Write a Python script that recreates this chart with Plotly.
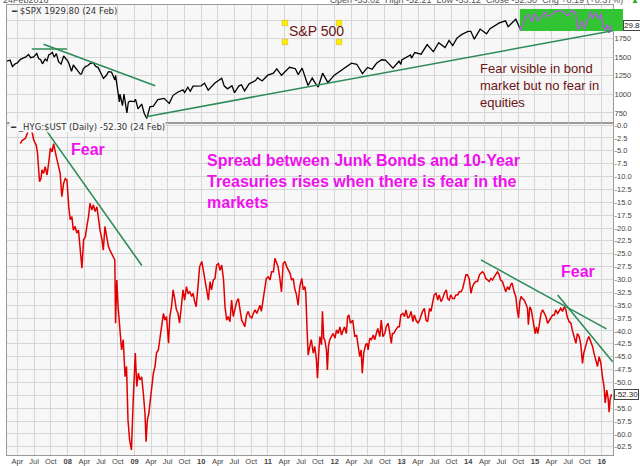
import plotly.graph_objects as go
import pandas as pd

# S&P 500 (top panel)
spx_dates = [
    "2007-02-01", "2007-02-20", "2007-03-05", "2007-03-20", "2007-04-02", "2007-04-16", "2007-05-01",
    "2007-05-15", "2007-06-01", "2007-06-12", "2007-06-29", "2007-07-16", "2007-07-26", "2007-08-06",
    "2007-08-16", "2007-08-31", "2007-09-10", "2007-09-19", "2007-10-01", "2007-10-09", "2007-10-19",
    "2007-10-31", "2007-11-12", "2007-11-26", "2007-12-10", "2007-12-21", "2008-01-02", "2008-01-09",
    "2008-01-22", "2008-02-01", "2008-02-15", "2008-03-10", "2008-03-17", "2008-03-26", "2008-04-07",
    "2008-04-21", "2008-05-02", "2008-05-19", "2008-06-02", "2008-06-16", "2008-07-01", "2008-07-15",
    "2008-08-01", "2008-08-11", "2008-08-28", "2008-09-15", "2008-09-19", "2008-09-29", "2008-10-10",
    "2008-10-13", "2008-10-27", "2008-11-04", "2008-11-20", "2008-11-28", "2008-12-08", "2008-12-31",
    "2009-01-06", "2009-01-20", "2009-02-09", "2009-02-23", "2009-03-09", "2009-03-26", "2009-04-14",
    "2009-05-08", "2009-06-12", "2009-07-10", "2009-07-31", "2009-08-25", "2009-09-23", "2009-10-02",
    "2009-10-19", "2009-11-02", "2009-11-17", "2009-12-31", "2010-01-19", "2010-02-08", "2010-03-15",
    "2010-04-23", "2010-05-07", "2010-05-25", "2010-06-18", "2010-07-02", "2010-07-26", "2010-08-09",
    "2010-08-26", "2010-09-20", "2010-10-25", "2010-11-05", "2010-11-30", "2010-12-31", "2011-01-31",
    "2011-02-18", "2011-03-16", "2011-04-29", "2011-05-31", "2011-06-15", "2011-07-07", "2011-08-08",
    "2011-08-31", "2011-09-22", "2011-10-03", "2011-10-27", "2011-11-25", "2011-12-30", "2012-01-31",
    "2012-02-29", "2012-04-02", "2012-05-01", "2012-06-01", "2012-06-29", "2012-07-24", "2012-08-17",
    "2012-09-14", "2012-10-05", "2012-11-15", "2012-12-18", "2012-12-28", "2013-01-02", "2013-02-19",
    "2013-02-25", "2013-03-14", "2013-04-18", "2013-05-21", "2013-06-24", "2013-07-23", "2013-08-27",
    "2013-09-18", "2013-10-08", "2013-10-31", "2013-11-27", "2013-12-31", "2014-01-15", "2014-02-03",
    "2014-03-07", "2014-04-11", "2014-04-30", "2014-06-20", "2014-07-24", "2014-08-07", "2014-09-18",
    "2014-10-10", "2014-10-15", "2014-11-10", "2014-11-28", "2014-12-16", "2014-12-29", "2015-01-15",
    "2015-02-27", "2015-03-11", "2015-04-24", "2015-05-21", "2015-06-29", "2015-07-20", "2015-08-10",
    "2015-08-25", "2015-09-17", "2015-09-29", "2015-10-30", "2015-11-03", "2015-11-13", "2015-12-01",
    "2015-12-14", "2015-12-29", "2016-01-08", "2016-01-20", "2016-02-01", "2016-02-11", "2016-02-24",
]
spx_vals = [
    1445, 1460, 1375, 1410, 1425, 1468, 1487, 1500, 1536, 1493, 1503, 1549, 1483, 1467, 1411, 1474,
    1451, 1529, 1547, 1565, 1501, 1549, 1439, 1407, 1516, 1484, 1447, 1409, 1310, 1395, 1350, 1273,
    1276, 1341, 1373, 1388, 1414, 1427, 1378, 1360, 1284, 1214, 1260, 1305, 1300, 1193, 1255, 1106,
    899, 1003, 848, 1005, 752, 896, 909, 903, 935, 805, 870, 743, 677, 832, 842, 930, 946, 879, 987,
    1028, 1061, 1025, 1097, 1042, 1110, 1115, 1150, 1056, 1150, 1217, 1111, 1074, 1117, 1022, 1115,
    1127, 1047, 1142, 1185, 1225, 1180, 1258, 1286, 1343, 1256, 1364, 1345, 1266, 1353, 1119, 1219,
    1130, 1099, 1285, 1159, 1258, 1312, 1366, 1419, 1405, 1278, 1362, 1338, 1418, 1465, 1460, 1353,
    1446, 1402, 1462, 1530, 1488, 1563, 1541, 1669, 1573, 1695, 1630, 1725, 1656, 1757, 1807, 1848,
    1848, 1742, 1878, 1815, 1884, 1962, 1988, 1910, 2011, 1906, 1862, 2039, 2067, 1972, 2090, 1992,
    2104, 2040, 2117, 2130, 2057, 2128, 2104, 1868, 1990, 1884, 2079, 2109, 2023, 2103, 2012, 2078,
    1922, 1859, 1939, 1829, 1930,
]
highlight_start = "2014-10-10"

# HYG:$UST spread (bottom panel)
hyg_dates = [
    "2007-04-17", "2007-04-26", "2007-05-14", "2007-05-23", "2007-06-07", "2007-06-20", "2007-06-29",
    "2007-07-13", "2007-07-20", "2007-07-31", "2007-08-08", "2007-08-13", "2007-08-22", "2007-08-31",
    "2007-09-10", "2007-09-19", "2007-09-28", "2007-10-08", "2007-10-16", "2007-10-31", "2007-11-12",
    "2007-11-21", "2007-11-30", "2007-12-10", "2007-12-19", "2007-12-28", "2008-01-07", "2008-01-15",
    "2008-01-24", "2008-02-01", "2008-02-11", "2008-02-20", "2008-02-29", "2008-03-10", "2008-03-19",
    "2008-03-28", "2008-04-07", "2008-04-15", "2008-04-24", "2008-05-02", "2008-05-12", "2008-05-21",
    "2008-05-30", "2008-06-09", "2008-06-17", "2008-06-26", "2008-07-07", "2008-07-14", "2008-07-23",
    "2008-08-01", "2008-08-11", "2008-08-19", "2008-08-28", "2008-09-05", "2008-09-15", "2008-09-19",
    "2008-09-26", "2008-10-03", "2008-10-13", "2008-10-22", "2008-10-31", "2008-11-10", "2008-11-18",
    "2008-11-26", "2008-12-05", "2008-12-15", "2008-12-24", "2009-01-05", "2009-01-13", "2009-01-22",
    "2009-01-30", "2009-02-09", "2009-02-18", "2009-02-27", "2009-03-05", "2009-03-12", "2009-03-20",
    "2009-03-30", "2009-04-03", "2009-04-14", "2009-04-23", "2009-05-01", "2009-05-11", "2009-05-20",
    "2009-05-29", "2009-06-08", "2009-06-16", "2009-06-25", "2009-07-06", "2009-07-13", "2009-07-22",
    "2009-07-31", "2009-08-10", "2009-08-18", "2009-08-27", "2009-09-04", "2009-09-14", "2009-09-23",
    "2009-10-02", "2009-10-12", "2009-10-21", "2009-10-30", "2009-11-09", "2009-11-17", "2009-11-26",
    "2009-12-04", "2009-12-14", "2009-12-23", "2010-01-04", "2010-01-12", "2010-01-22", "2010-01-29",
    "2010-02-09", "2010-02-18", "2010-02-26", "2010-03-08", "2010-03-17", "2010-03-26", "2010-04-05",
    "2010-04-14", "2010-04-23", "2010-05-03", "2010-05-11", "2010-05-20", "2010-05-28", "2010-06-07",
    "2010-06-16", "2010-06-25", "2010-07-02", "2010-07-14", "2010-07-23", "2010-08-02", "2010-08-10",
    "2010-08-19", "2010-08-27", "2010-09-06", "2010-09-15", "2010-09-24", "2010-10-04", "2010-10-13",
    "2010-10-22", "2010-11-01", "2010-11-09", "2010-11-18", "2010-11-26", "2010-12-06", "2010-12-15",
    "2010-12-23", "2011-01-03", "2011-01-12", "2011-01-21", "2011-01-31", "2011-02-08", "2011-02-17",
    "2011-02-25", "2011-03-07", "2011-03-16", "2011-03-25", "2011-04-04", "2011-04-13", "2011-04-22",
    "2011-05-02", "2011-05-10", "2011-05-19", "2011-05-27", "2011-06-06", "2011-06-15", "2011-06-24",
    "2011-07-05", "2011-07-13", "2011-07-22", "2011-07-27", "2011-08-03", "2011-08-09", "2011-08-18",
    "2011-08-26", "2011-09-06", "2011-09-14", "2011-09-23", "2011-09-29", "2011-10-06", "2011-10-12",
    "2011-10-21", "2011-10-26", "2011-11-02", "2011-11-08", "2011-11-17", "2011-11-22", "2011-11-28",
    "2011-12-05", "2011-12-14", "2011-12-23", "2012-01-03", "2012-01-11", "2012-01-20", "2012-01-30",
    "2012-02-07", "2012-02-16", "2012-02-24", "2012-03-05", "2012-03-12", "2012-03-19", "2012-03-27",
    "2012-04-09", "2012-04-16", "2012-04-20", "2012-04-30", "2012-05-08", "2012-05-17", "2012-05-25",
    "2012-05-31", "2012-06-08", "2012-06-18", "2012-06-26", "2012-07-02", "2012-07-11", "2012-07-20",
    "2012-07-30", "2012-08-07", "2012-08-16", "2012-08-24", "2012-09-04", "2012-09-12", "2012-09-21",
    "2012-10-01", "2012-10-09", "2012-10-19", "2012-10-26", "2012-11-06", "2012-11-12", "2012-11-19",
    "2012-11-30", "2012-12-12", "2012-12-20", "2012-12-28", "2013-01-08", "2013-01-17", "2013-01-25",
    "2013-02-04", "2013-02-13", "2013-02-22", "2013-03-04", "2013-03-12", "2013-03-21", "2013-04-01",
    "2013-04-09", "2013-04-18", "2013-04-26", "2013-05-06", "2013-05-15", "2013-05-24", "2013-06-03",
    "2013-06-11", "2013-06-20", "2013-06-28", "2013-07-09", "2013-07-18", "2013-07-26", "2013-08-05",
    "2013-08-14", "2013-08-23", "2013-09-03", "2013-09-10", "2013-09-19", "2013-09-27", "2013-10-07",
    "2013-10-17", "2013-10-25", "2013-11-04", "2013-11-13", "2013-11-22", "2013-12-02", "2013-12-10",
    "2013-12-19", "2013-12-27", "2014-01-06", "2014-01-16", "2014-01-24", "2014-02-03", "2014-02-12",
    "2014-02-21", "2014-03-03", "2014-03-11", "2014-03-20", "2014-03-28", "2014-04-07", "2014-04-17",
    "2014-04-25", "2014-05-05", "2014-05-14", "2014-05-23", "2014-06-02", "2014-06-10", "2014-06-19",
    "2014-06-27", "2014-07-07", "2014-07-17", "2014-07-25", "2014-08-04", "2014-08-13", "2014-08-22",
    "2014-08-29", "2014-09-09", "2014-09-18", "2014-09-26", "2014-10-03", "2014-10-10", "2014-10-17",
    "2014-10-24", "2014-11-03", "2014-11-12", "2014-11-21", "2014-11-26", "2014-12-04", "2014-12-12",
    "2014-12-22", "2015-01-02", "2015-01-09", "2015-01-16", "2015-01-23", "2015-02-03", "2015-02-12",
    "2015-02-20", "2015-03-02", "2015-03-11", "2015-03-20", "2015-03-27", "2015-04-08", "2015-04-17",
    "2015-04-24", "2015-05-05", "2015-05-14", "2015-05-22", "2015-06-01", "2015-06-10", "2015-06-19",
    "2015-06-26", "2015-07-07", "2015-07-17", "2015-07-24", "2015-08-04", "2015-08-13", "2015-08-21",
    "2015-08-31", "2015-09-09", "2015-09-18", "2015-09-25", "2015-10-06", "2015-10-15", "2015-10-23",
    "2015-11-03", "2015-11-12", "2015-11-20", "2015-11-30", "2015-12-09", "2015-12-18", "2015-12-28",
    "2016-01-05", "2016-01-14", "2016-01-20", "2016-01-29", "2016-02-05", "2016-02-11", "2016-02-16",
    "2016-02-24",
]
hyg_vals = [
    -3.6, -3.0, -2.6, -1.7, -0.5, -1.3, -2.9, -3.9, -5.5, -11.0, -10.4, -8.7, -9.4, -8.1, -9.7, -7.4,
    -4.5, -5.2, -3.6, -6.2, -8.1, -9.4, -13.9, -11.3, -10.4, -10.7, -15.9, -18.4, -17.8, -20.4, -19.7,
    -21.0, -20.4, -23.6, -27.8, -22.3, -21.7, -19.7, -17.8, -15.2, -16.5, -15.5, -16.8, -15.9, -18.4,
    -20.4, -22.3, -24.3, -19.7, -21.7, -23.6, -24.3, -24.9, -25.6, -26.2, -38.5, -30.1, -35.3, -39.2,
    -43.7, -41.7, -48.9, -46.9, -57.3, -61.2, -63.1, -54.0, -44.3, -50.8, -48.2, -49.5, -48.9, -52.1,
    -56.0, -61.5, -57.3, -56.0, -52.8, -52.1, -48.2, -46.9, -44.3, -43.7, -41.1, -39.2, -36.6, -37.9,
    -37.2, -42.4, -37.2, -35.3, -32.0, -34.0, -35.9, -36.6, -38.5, -35.3, -32.0, -34.0, -31.4, -32.7,
    -32.4, -33.3, -32.7, -34.3, -35.3, -31.4, -27.5, -26.5, -28.2, -30.4, -31.4, -34.0, -30.4, -32.0,
    -30.1, -29.8, -27.2, -26.9, -28.2, -27.2, -30.1, -35.3, -37.9, -37.2, -38.2, -34.0, -37.2, -35.9,
    -34.3, -33.7, -35.9, -37.9, -38.5, -39.2, -36.9, -36.2, -37.2, -37.5, -36.6, -35.9, -36.6, -35.6,
    -35.0, -36.2, -34.0, -31.4, -29.8, -29.5, -30.1, -28.5, -28.5, -25.9, -26.9, -27.5, -29.8, -32.4,
    -26.9, -26.5, -27.5, -28.2, -28.8, -30.1, -29.8, -31.7, -33.0, -35.0, -31.4, -29.8, -32.0, -31.4,
    -32.7, -39.8, -44.7, -43.0, -41.7, -44.3, -43.0, -45.6, -49.2, -44.3, -41.1, -42.7, -36.2, -41.4,
    -41.7, -43.7, -47.6, -43.0, -41.7, -41.1, -40.5, -41.4, -39.8, -40.5, -39.2, -40.8, -39.8, -39.2,
    -40.5, -37.2, -36.9, -38.5, -37.9, -39.8, -41.1, -40.8, -42.4, -45.0, -43.7, -48.2, -44.3, -42.7,
    -42.4, -43.7, -41.4, -41.7, -40.8, -41.7, -40.5, -39.5, -41.1, -37.9, -41.1, -40.5, -39.2, -38.5,
    -39.8, -42.4, -40.5, -40.5, -39.8, -39.2, -39.2, -36.9, -36.6, -37.2, -35.9, -37.5, -37.2, -36.2,
    -38.2, -36.9, -37.9, -38.5, -37.9, -36.9, -36.2, -35.6, -37.9, -38.2, -35.6, -36.2, -34.3, -33.0,
    -32.7, -34.0, -33.0, -34.3, -33.7, -32.7, -32.0, -33.7, -34.0, -33.0, -33.7, -33.7, -33.0, -33.0,
    -32.4, -32.4, -31.7, -30.7, -29.1, -29.1, -29.8, -32.7, -31.4, -30.7, -30.4, -30.4, -29.1, -28.8,
    -28.5, -28.8, -29.8, -30.1, -30.4, -29.8, -30.1, -29.5, -28.8, -28.5, -29.1, -30.1, -30.4, -31.7,
    -32.4, -31.4, -32.0, -31.0, -30.7, -32.4, -33.3, -35.9, -37.5, -34.3, -33.3, -33.7, -34.0, -34.7,
    -35.6, -38.8, -35.3, -35.9, -37.9, -40.5, -39.2, -40.5, -39.2, -36.6, -35.9, -36.6, -37.2, -38.5,
    -37.9, -37.5, -36.9, -36.9, -35.9, -36.6, -35.9, -35.6, -36.2, -35.3, -35.9, -37.2, -38.2, -38.5,
    -39.8, -41.1, -42.4, -40.5, -41.1, -42.7, -46.3, -44.3, -42.7, -41.7, -41.1, -42.0, -43.0, -44.3,
    -45.6, -46.9, -45.0, -46.3, -48.9, -50.8, -54.0, -51.5, -53.0, -55.8, -53.3, -52.3,
]

# trend lines drawn on the chart
spx_trend_dates = [["2007-06-19", "2007-12-28"], ["2007-08-22", "2009-04-24"], ["2009-03-05", "2016-03-01"]]
spx_trend_vals = [[1610, 1610], [1673, 1117], [700, 1855]]
hyg_trend_dates = [["2007-08-22", "2009-02-10"], ["2014-03-11", "2016-01-27"], ["2015-05-05", "2016-03-01"]]
hyg_trend_vals = [[-0.3, -27.3], [-26.2, -39.6], [-33.0, -46.0]]

spx_ticks = [750, 1000, 1250, 1500, 1750, 2000]
spx_ticktext = ["750", "1000", "1250", "1500", "1750", ""]
hyg_ticks = [-2.5 * i for i in range(26)]

quarter_starts = pd.date_range("2007-04-01", "2016-01-01", freq="QS")
x_ticktext = [f"<b>{d:%y}</b>" if d.month == 1 else d.strftime("%b") for d in quarter_starts]

x_range = ["2007-02-03", "2016-03-03"]
FONT = "Arial, Liberation Sans, sans-serif"
TREND = "#2e8b57"
MAGENTA = "#ee11ee"
MAROON = "#6b1414"
GRID = "#d6d6d6"

spx = pd.Series(spx_vals, index=pd.to_datetime(spx_dates))
hyg = pd.Series(hyg_vals, index=pd.to_datetime(hyg_dates))
late = spx[spx.index >= highlight_start]

fig = go.Figure()

fig.add_trace(go.Scatter(x=spx.index, y=spx.values, mode="lines",
                         line=dict(color="black", width=1.3), xaxis="x", yaxis="y"))
# green highlight box, between the black and purple line
fig.add_trace(go.Scatter(x=[highlight_start, x_range[1], x_range[1], highlight_start, highlight_start],
                         y=[1852, 1852, 2148, 2148, 1852], mode="lines", fill="toself",
                         fillcolor="#33c433", line=dict(width=0), xaxis="x", yaxis="y"))
fig.add_trace(go.Scatter(x=late.index, y=late.values, mode="lines",
                         line=dict(color="#bb55ee", width=1.3), xaxis="x", yaxis="y"))
for d, v in zip(spx_trend_dates, spx_trend_vals):
    fig.add_trace(go.Scatter(x=d, y=v, mode="lines", line=dict(color=TREND, width=1.6),
                             xaxis="x", yaxis="y"))

fig.add_trace(go.Scatter(x=hyg.index, y=hyg.values, mode="lines",
                         line=dict(color="#e00000", width=1.5), xaxis="x2", yaxis="y2"))
for d, v in zip(hyg_trend_dates, hyg_trend_vals):
    fig.add_trace(go.Scatter(x=d, y=v, mode="lines", line=dict(color=TREND, width=1.6),
                             xaxis="x2", yaxis="y2"))

axis_common = dict(showgrid=True, gridcolor=GRID, gridwidth=1, zeroline=False, showline=True,
                   mirror=True, linecolor="#9a9a9a", linewidth=1, ticks="", automargin=False,
                   tickfont=dict(family=FONT, size=7.5, color="#444"))
split = 0.7378

fig.update_layout(
    width=640, height=466,
    margin=dict(l=7, r=27, t=5, b=11),
    paper_bgcolor="white", plot_bgcolor="#f7f7f7",
    showlegend=False,
    font=dict(family=FONT, size=8, color="#333"),
    xaxis=dict(axis_common, domain=[0, 1], anchor="y", type="date", range=x_range,
               tickvals=quarter_starts, ticktext=x_ticktext, showticklabels=False),
    yaxis=dict(axis_common, domain=[split, 1], anchor="x", side="right", range=[615, 2202],
               tickvals=spx_ticks, ticktext=spx_ticktext, ticklabelstandoff=-1),
    xaxis2=dict(axis_common, domain=[0, 1], anchor="y2", type="date", range=x_range,
                tickvals=quarter_starts, ticktext=x_ticktext, ticklabelstandoff=-1),
    yaxis2=dict(axis_common, domain=[0, split], anchor="x2", side="right", range=[-64.1, 0.4],
                tickvals=hyg_ticks, ticktext=[f"{v:.1f}" for v in hyg_ticks], ticklabelstandoff=-1),
)

# green box spills a bit past the plot edge
fig.add_shape(type="rect", xref="paper", yref="y", x0=1.0, x1=1.0165, y0=1852, y1=2148,
              fillcolor="#33c433", line=dict(width=0), layer="above")

# yellow selection handles around "S&P 500"
for hx in (0.4587, 0.5479):
    for hy in (0.960, 0.9178):
        fig.add_shape(type="rect", xref="paper", yref="paper",
                      x0=hx - 0.0045, x1=hx + 0.0045, y0=hy - 0.006, y1=hy + 0.006,
                      fillcolor="#ffee00", line=dict(color="#c8b400", width=0.5), layer="above")

def note(text, x, y, size, color, bold=False, xanchor="left", yanchor="middle", **kw):
    if bold:
        text = "<b>" + text.replace("<br>", "</b><br><b>") + "</b>"
    fig.add_annotation(text=text, x=x, y=y, xref=kw.pop("xref", "paper"), yref=kw.pop("yref", "paper"),
                       showarrow=False, xanchor=xanchor, yanchor=yanchor, align="left",
                       font=dict(family=kw.pop("family", FONT), size=size, color=color), **kw)

note("S&P 500", 0.462, 0.9422, 14, MAROON)
note("Fear visible in bond<br>market but no fear in<br>equities", 0.7772, 0.822, 13, MAROON)
note("Fear", 0.1023, 0.6778, 16, MAGENTA, bold=True)
note("Spread between Junk Bonds and 10-Year<br>Treasuries rises when there is fear in the<br>markets",
     0.3267, 0.6067, 16, MAGENTA, bold=True)
note("Fear", 0.9109, 0.4078, 16, MAGENTA, bold=True)

note("<b>━</b> $SPX 1929.80 (24 Feb)", 0.004, 0.9867, 8.5, "#333", family="DejaVu Sans")
note("<b>━</b> _HYG:$UST (Daily) -52.30 (24 Feb)", 0.004, 0.7289, 8.5, "#333", family="DejaVu Sans",
     bgcolor="#f7f7f7", borderpad=0)
note("24Feb2016", -0.01, 1.011, 9, "#555")
note("Open -53.02  High -52.21  Low -53.12  Close -52.30  Chg +0.19 (+0.37%)", 1.02, 1.011, 9, "#555",
     xanchor="right")
note("▲", 1.026, 1.011, 8, "#22aa22")

note("-52.30", 1.001, -52.3, 8, "#222", yref="y2", bgcolor="white", bordercolor="#444",
     borderwidth=1, borderpad=0)
note("29.8", 1.0165, 1929.8, 8, "#222", yref="y", bgcolor="white", bordercolor="#444",
     borderwidth=1, borderpad=0)

# the page body has a default 8px margin; drop it so the chart fills the window exactly
fig.write_html("out.html", config={"displayModeBar": False},
               post_script="document.body.style.margin='0';")
